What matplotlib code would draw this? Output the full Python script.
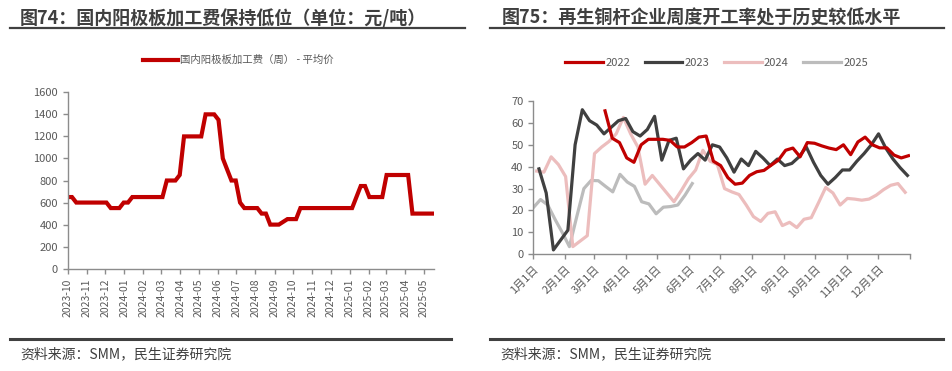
import matplotlib
matplotlib.use('Agg')
import matplotlib.pyplot as plt
import matplotlib.dates as mdates
from matplotlib.lines import Line2D
import pandas as pd

plt.rcParams['font.family'] = ['Noto Sans CJK SC', 'DejaVu Sans']

# ── data: 图74 阳极板加工费（周度，元/吨） ─────────────────────────────────
FEE_START = '2023-10-01'
fee_values = [650, 650,
              600, 600, 600, 600, 600, 600, 600, 600,
              550, 550, 550, 600, 600,
              650, 650, 650, 650, 650, 650, 650, 650,
              800, 800, 800, 850,
              1200, 1200, 1200, 1200, 1200,
              1400, 1400, 1400, 1350, 1000, 900, 800, 800,
              600, 550, 550, 550, 550, 500, 500,
              400, 400, 400, 425, 450, 450, 450,
              550, 550, 550, 550, 550, 550, 550, 550, 550, 550, 550, 550, 550,
              650, 750, 750, 650, 650, 650, 650,
              850, 850, 850, 850, 850, 850,
              500, 500, 500, 500, 500, 500]

# ── data: 图75 再生铜杆开工率（%），按年内天数周度排列 ───────────────────
years = ['2022', '2023', '2024', '2025']
start_day = {'2022': 69.5, '2023': 5.5, '2024': 3.3, '2025': 0.0}
rate_2022 = [65.5, 53, 51, 44, 42, 50, 52.5, 52.5, 52.5, 52, 49, 49, 51,
             53.5, 54, 42.5, 40.5, 35, 32, 32.5, 36, 37.7, 38.3, 40.7, 43,
             47.5, 48.5, 44.5, 51, 50.7, 49.5, 48.5, 47.8, 50, 45.5, 51.3,
             53.5, 50, 48.6, 48.6, 45.3, 44, 45]
rate_2023 = [39, 28, 2, 6.5, 11, 50, 66, 61, 59, 55, 58, 61, 62, 56, 54, 57,
             63, 43, 52, 53, 39, 43, 46, 43, 50, 49, 44, 37.5, 43.5, 40.5, 47,
             44, 40.5, 43.5, 40.5, 41.5, 44.5, 49, 42, 36, 32, 35, 38.5, 38.5,
             42.5, 46, 50, 55, 48.5, 43.5, 39.5, 36]
rate_2024 = [38, 37.5, 44.5, 41, 35.5, 3.5, 6, 8.5, 46, 49, 51.5, 55, 62.5,
             55, 49, 32, 36, 32, 28, 24, 29, 34.5, 38.5, 47.5, 42.5, 41, 30,
             28.5, 27.3, 22.5, 17.2, 15, 18.7, 19.4, 13.1, 14.6, 12.2, 16,
             16.7, 23.5, 30.5, 28, 22.5, 25.5, 25.2, 24.7, 25.2, 27, 29.5,
             31.5, 32.3, 28.3]
rate_2025 = [21.3, 25, 22.5, 16, 10, 3.5, 17, 30, 33.7, 33.6, 31, 28.5, 36.5,
             33, 31, 24, 23, 18.5, 21.5, 21.8, 22.5, 27, 32.3]
rates = {'2022': rate_2022, '2023': rate_2023, '2024': rate_2024, '2025': rate_2025}
month_labels = ['1月1日', '2月1日', '3月1日', '4月1日', '5月1日', '6月1日',
                '7月1日', '8月1日', '9月1日', '10月1日', '11月1日', '12月1日']
month_start = [0, 31, 59, 90, 120, 151, 181, 212, 243, 273, 304, 334, 365]

# ── styles ────────────────────────────────────────────────────────────────
RED = '#C00000'
COLORS = {'2022': '#C00000', '2023': '#404040', '2024': '#ECBDBD', '2025': '#BCBCBC'}
TEXT_DARK = '#3F3F3F'
TICK_COL = '#595959'
SPINE_COL = '#8C8C8C'

fig = plt.figure(figsize=(9.53, 3.71), dpi=100)
fig.patch.set_facecolor('white')


def style_axes(ax):
    for s in ('top', 'right'):
        ax.spines[s].set_visible(False)
    for s in ('left', 'bottom'):
        ax.spines[s].set_color(SPINE_COL)
        ax.spines[s].set_linewidth(1.0)
    ax.tick_params(colors=SPINE_COL, labelcolor=TICK_COL, labelsize=8,
                   length=3.5, width=1.0)
    ax.set_facecolor('none')


# ── left chart ────────────────────────────────────────────────────────────
fee_dates = pd.date_range(FEE_START, periods=len(fee_values), freq='7D')
ax1 = fig.add_axes([0.0710, 0.2757, 0.3844, 0.4755])
ax1.plot(fee_dates, fee_values, color=RED, linewidth=3.0, solid_joinstyle='miter',
         label='国内阳极板加工费（周） - 平均价')
ax1.set_ylim(0, 1600)
ax1.set_yticks(range(0, 1601, 200))
ax1.set_xlim(pd.Timestamp(FEE_START), fee_dates[-1])
ax1.xaxis.set_major_locator(mdates.MonthLocator())
ax1.xaxis.set_major_formatter(mdates.DateFormatter('%Y-%m'))
style_axes(ax1)
ax1.tick_params(axis='x', labelrotation=90, labelsize=7.5)

fig.legend(handles=ax1.get_lines(), loc='center', bbox_to_anchor=(0.25, 0.838),
           frameon=False, fontsize=7.5, handlelength=3.4, handletextpad=0.2,
           labelcolor=TICK_COL)

# ── right chart ───────────────────────────────────────────────────────────
ax2 = fig.add_axes([0.5596, 0.3146, 0.3953, 0.4132])
handles = []
for yr in years:
    vals = rates[yr]
    days = [start_day[yr] + 7 * i for i in range(len(vals))]
    ln, = ax2.plot(days, vals, color=COLORS[yr], linewidth=2.3, label=yr,
                   zorder={'2022': 4, '2023': 3, '2024': 2, '2025': 1}[yr])
    handles.append(ln)
ax2.set_ylim(0, 70)
ax2.set_yticks(range(0, 71, 10))
ax2.set_xlim(0, 365)
ax2.set_xticks(month_start)
ax2.set_xticklabels(month_labels + [''], rotation=45, ha='right',
                    rotation_mode='anchor')
style_axes(ax2)

fig.legend(handles=handles, loc='center', bbox_to_anchor=(0.752, 0.83), ncol=4,
           frameon=False, fontsize=8, handlelength=3.4, handletextpad=0.2,
           columnspacing=1.3, labelcolor=TICK_COL)

# ── titles, rules and source notes ────────────────────────────────────────
fig.text(0.021, 0.951, '图74：国内阳极板加工费保持低位（单位：元/吨）', fontsize=13,
         fontweight='bold', color=TEXT_DARK, va='center')
fig.text(0.526, 0.951, '图75：再生铜杆企业周度开工率处于历史较低水平', fontsize=13,
         fontweight='bold', color=TEXT_DARK, va='center')
for x0, x1 in ((0.010, 0.488), (0.514, 0.991)):
    fig.add_artist(Line2D([x0, x1], [0.925, 0.925], color='#404040', linewidth=1.6))
for x0, x1 in ((0.010, 0.473), (0.514, 0.990)):
    fig.add_artist(Line2D([x0, x1], [0.087, 0.087], color='#404040', linewidth=2.2))
fig.text(0.021, 0.045, '资料来源：SMM，民生证券研究院', fontsize=10, color=TEXT_DARK,
         va='center')
fig.text(0.525, 0.045, '资料来源：SMM，民生证券研究院', fontsize=10, color=TEXT_DARK,
         va='center')

fig.savefig('out.png', dpi=100, facecolor='white')
